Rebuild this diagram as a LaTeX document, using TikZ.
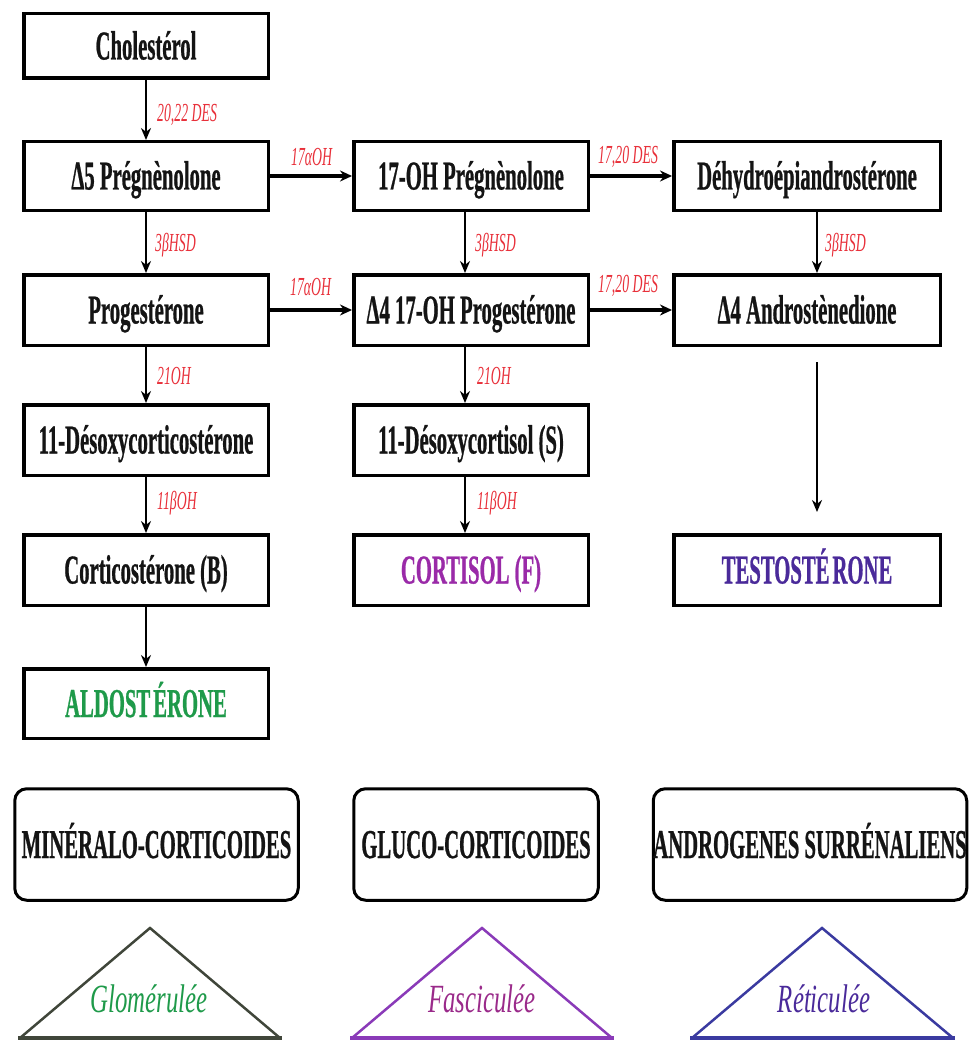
\documentclass[tikz,border=0pt]{standalone}
\usepackage{fontspec}
\setmainfont{Liberation Serif}
\newfontfamily\bxf[FakeStretch=0.505,FakeBold=0.6]{Liberation Serif}
\newfontfamily\lbf[FakeStretch=0.53]{Liberation Serif}
\newfontfamily\trf[FakeStretch=0.62]{Liberation Serif}
\usetikzlibrary{arrows.meta,calc}
\definecolor{labred}{HTML}{E8303A}
\definecolor{aldog}{HTML}{1F9A4A}
\definecolor{cortp}{HTML}{9A2AA8}
\definecolor{testb}{HTML}{4A2A9A}
\definecolor{trig}{HTML}{40463A}
\definecolor{trip}{HTML}{8A3AB8}
\definecolor{trib}{HTML}{3A3AA0}
\definecolor{fasc}{HTML}{9A2A8A}
\tikzset{
  stepbox/.style={draw=black, line width=3.5pt, inner sep=0pt, fill=white,
    font=\bxf\bfseries\fontsize{41}{41}\selectfont, text=black!92,
    text height=27pt, text depth=0pt, anchor=center},
  zonebox/.style={stepbox, rounded corners=12pt, line width=3pt},
  enz/.style={font=\lbf\itshape\fontsize{26}{26}\selectfont, text=labred,
    anchor=west, inner sep=0pt},
  varr/.style={line width=2.7pt, -{Stealth[length=12pt,width=10pt]}},
  harr/.style={line width=3.5pt, -{Stealth[length=12pt,width=11pt]}},
  zonetxt/.style={font=\trf\itshape\fontsize{40}{40}\selectfont, anchor=base, inner sep=0pt},
}
\newcommand\mybox[7]{%
  \node[#6, minimum width={#4pt-#2pt-3.5pt}, minimum height={#5pt-#3pt-3.5pt}]
    (#1) at ({(#2+#4)/2},{(#3+#5)/2}) {#7};}
\begin{document}
\begin{tikzpicture}[x=1pt,y=-1pt]
\useasboundingbox (0,0) rectangle (972,1043);
% boxes
\mybox{chol}{22}{12}{270}{80}{stepbox}{Cholestérol}
\mybox{preg}{22}{140}{270}{212}{stepbox}{Δ5 Prégnènolone}
\mybox{ohpreg}{352}{140}{590}{212}{stepbox}{17-OH Prégnènolone}
\mybox{dhea}{672}{140}{942}{212}{stepbox}{Déhydroépiandrostérone}
\mybox{prog}{22}{273}{270}{347}{stepbox}{Progestérone}
\mybox{ohprog}{352}{273}{590}{347}{stepbox}{Δ4 17-OH Progestérone}
\mybox{andro}{672}{273}{942}{347}{stepbox}{Δ4 Androstènedione}
\mybox{doc}{22}{403}{270}{477}{stepbox}{11-Désoxycorticostérone}
\mybox{desc}{352}{403}{590}{477}{stepbox}{11-Désoxycortisol (S)}
\mybox{corti}{22}{533}{270}{607}{stepbox}{Corticostérone (B)}
\mybox{cortisol}{352}{533}{590}{607}{stepbox,text=cortp}{CORTISOL (F)}
\mybox{testo}{672}{533}{942}{607}{stepbox,text=testb}{TESTOSTÉ\kern3pt RONE}
\mybox{aldo}{22}{667}{270}{740}{stepbox,text=aldog}{ALDOST\kern3pt ÉRONE}
\mybox{miner}{13}{787}{300}{902}{zonebox}{MINÉRALO-CORTICOIDES}
\mybox{gluco}{352}{787}{600}{902}{zonebox}{GLUCO-CORTICOIDES}
\mybox{andsur}{652}{787}{968}{902}{zonebox}{ANDROGENES SURRÉNALIENS}
% vertical arrows
\draw[varr] (chol.south) -- (preg.north);
\draw[varr] (preg.south) -- (prog.north);
\draw[varr] ([xshift=-6pt]ohpreg.south) -- ([xshift=-6pt]ohprog.north);
\draw[varr] ([xshift=10pt]dhea.south) -- ([xshift=10pt]andro.north);
\draw[varr] (prog.south) -- (doc.north);
\draw[varr] ([xshift=-6pt]ohprog.south) -- ([xshift=-6pt]desc.north);
\draw[varr] (doc.south) -- (corti.north);
\draw[varr] ([xshift=-6pt]desc.south) -- ([xshift=-6pt]cortisol.north);
\draw[varr] (corti.south) -- (aldo.north);
\draw[varr, shorten <=15pt, shorten >=21pt] ([xshift=10pt]andro.south) -- ([xshift=10pt]testo.north);
% horizontal arrows
\draw[harr] (preg.east) -- (ohpreg.west);
\draw[harr] (ohpreg.east) -- (dhea.west);
\draw[harr] (prog.east) -- (ohprog.west);
\draw[harr] (ohprog.east) -- (andro.west);
% enzyme labels
\node[enz] (e1) at (157,115) {20,22 DES};
\node[enz] (e2) at (291,157) {17αOH};
\node[enz] (e3) at (598,157) {17,20 DES};
\node[enz] (e4) at (155,245) {3βHSD};
\node[enz] (e5) at (475,245) {3βHSD};
\node[enz] (e6) at (825,245) {3βHSD};
\node[enz] (e7) at (290,287) {17αOH};
\node[enz] (e8) at (598,286) {17,20 DES};
\node[enz] (e9) at (157,376) {21OH};
\node[enz] (e10) at (477,376) {21OH};
\node[enz] (e11) at (157,503) {11βOH};
\node[enz] (e12) at (477,503) {11βOH};
% zone triangles
\draw[trig, line width=2.5pt, line join=miter] (20,1038) -- (150,928) -- (280,1038);
\draw[trig, line width=4pt] (18,1038) -- (282,1038);
\draw[trip, line width=2.5pt, line join=miter] (352,1038) -- (482,928) -- (612,1038);
\draw[trip, line width=4pt] (350,1038) -- (614,1038);
\draw[trib, line width=2.5pt, line join=miter] (692,1038) -- (822,928) -- (953,1038);
\draw[trib, line width=4pt] (690,1038) -- (955,1038);
\node[zonetxt, text=aldog] (zg) at (149,1012) {Glomérulée};
\node[zonetxt, text=fasc] (zf) at (482,1012) {Fasciculée};
\node[zonetxt, text=testb] (zr) at (824,1012) {Réticulée};
\end{tikzpicture}
\end{document}
